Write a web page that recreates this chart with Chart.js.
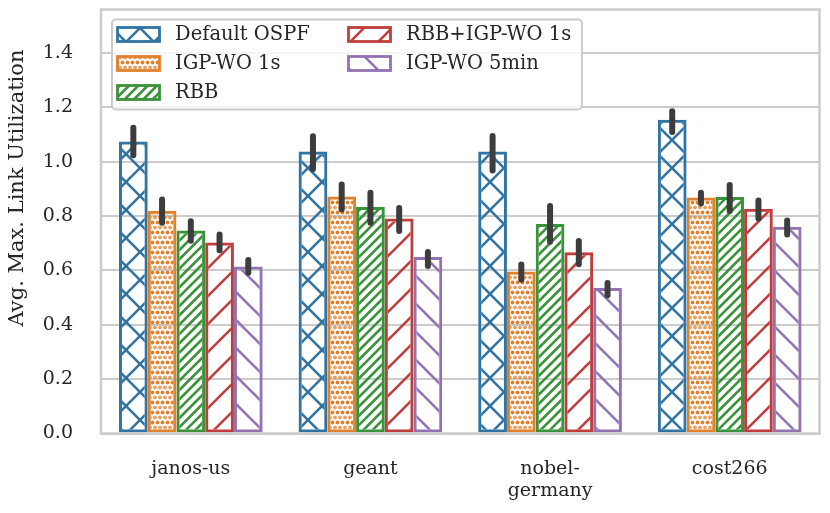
<!DOCTYPE html>
<html><head><meta charset="utf-8">
<script src="https://cdn.jsdelivr.net/npm/chart.js@4.4.0/dist/chart.umd.min.js"></script>
<style>html,body{margin:0;padding:0;background:#fff;}canvas{display:block}</style>
</head><body>
<canvas id="c" width="830" height="513" style="width:830px;height:513px"></canvas>
<script>
// ---- data ----
const categories = ['janos-us', 'geant', ['nobel-', 'germany'], 'cost266'];
const seriesNames = ['Default OSPF', 'IGP-WO 1s', 'RBB', 'RBB+IGP-WO 1s', 'IGP-WO 5min'];
const defaultOspf = [1.074, 1.038, 1.038, 1.154];
const igpWo1s     = [0.820, 0.872, 0.596, 0.868];
const rbb         = [0.747, 0.833, 0.771, 0.870];
const rbbIgpWo1s  = [0.703, 0.791, 0.667, 0.827];
const igpWo5min   = [0.614, 0.649, 0.535, 0.761];
// error bar extents (low / high)
const defaultOspfLo = [1.013, 0.962, 0.957, 1.098];
const defaultOspfHi = [1.136, 1.105, 1.106, 1.197];
const igpWo1sLo     = [0.764, 0.813, 0.555, 0.835];
const igpWo1sHi     = [0.872, 0.927, 0.633, 0.897];
const rbbLo         = [0.698, 0.764, 0.694, 0.808];
const rbbHi         = [0.792, 0.897, 0.848, 0.925];
const rbbIgpWo1sLo  = [0.663, 0.734, 0.612, 0.780];
const rbbIgpWo1sHi  = [0.743, 0.841, 0.719, 0.868];
const igpWo5minLo   = [0.580, 0.605, 0.498, 0.721];
const igpWo5minHi   = [0.649, 0.679, 0.565, 0.795];
const yTicks = [0.0, 0.2, 0.4, 0.6, 0.8, 1.0, 1.2, 1.4];
const yMax = 1.56;
const yTitle = 'Avg. Max. Link Utilization';

const seriesValues = [defaultOspf, igpWo1s, rbb, rbbIgpWo1s, igpWo5min];
const seriesLo = [defaultOspfLo, igpWo1sLo, rbbLo, rbbIgpWo1sLo, igpWo5minLo];
const seriesHi = [defaultOspfHi, igpWo1sHi, rbbHi, rbbIgpWo1sHi, igpWo5minHi];

// ---- styles ----
const colors = ['#3274a1', '#e1812c', '#3a923a', '#c03d3e', '#9372b2'];
const hatches = ['x', 'dots', '///', '/', '\\'];
const textColor = '#262626';
const gridColor = '#cccccc';
const FONT = "'DejaVu Serif', serif";

function makePattern(kind, color) {
  const cv = document.createElement('canvas');
  const g = cv.getContext('2d');
  if (kind === 'dots') {
    cv.width = 10; cv.height = 10;
    g.fillStyle = color;
    const pts = [[2.5, 2.5, 1], [7.5, 2.5, 1], [0, 7.5, 0.75], [5, 7.5, 0.75], [10, 7.5, 0.75]];
    pts.forEach(([x, y, a]) => {
      g.globalAlpha = a;
      g.beginPath(); g.arc(x, y, 1.9, 0, Math.PI * 2); g.fill();
    });
    g.globalAlpha = 1;
  } else {
    const T = 28;
    cv.width = T; cv.height = T;
    g.strokeStyle = color; g.lineWidth = 2.6; g.lineCap = 'butt';
    const fwd = (n) => { // '/' family: x + y = c
      for (let i = 0; i <= 2 * n; i++) {
        const c = i * T / n;
        g.beginPath(); g.moveTo(c + 5, -5); g.lineTo(c - T - 5, T + 5); g.stroke();
      }
    };
    const back = (n) => { // '\' family: x - y = c
      for (let i = -n; i <= n; i++) {
        const c = i * T / n;
        g.beginPath(); g.moveTo(c - 5, -5); g.lineTo(c + T + 5, T + 5); g.stroke();
      }
    };
    if (kind === 'x') { fwd(1); back(1); }
    else if (kind === '///') { fwd(3); }
    else if (kind === '/') { fwd(1); }
    else if (kind === '\\') { back(1); }
  }
  return g.createPattern(cv, 'repeat');
}
const patterns = colors.map((c, i) => makePattern(hatches[i], c));

// ---- plugins ----
const framePlugin = {
  id: 'frame',
  afterDatasetsDraw(chart) {
    const { ctx, chartArea: a } = chart;
    ctx.save();
    ctx.strokeStyle = gridColor; ctx.lineWidth = 2.5;
    ctx.strokeRect(a.left, a.top, a.right - a.left, a.bottom - a.top);
    // error bars
    const ys = chart.scales.y;
    ctx.strokeStyle = '#3d3d3d'; ctx.lineWidth = 6; ctx.lineCap = 'round';
    seriesValues.forEach((_, i) => {
      const meta = chart.getDatasetMeta(i);
      meta.data.forEach((bar, j) => {
        const y1 = ys.getPixelForValue(seriesHi[i][j]) + 3;
        const y2 = ys.getPixelForValue(seriesLo[i][j]) - 3;
        ctx.beginPath(); ctx.moveTo(bar.x, y1); ctx.lineTo(bar.x, y2); ctx.stroke();
      });
    });
    ctx.restore();
  },
  afterDraw(chart) {
    const { ctx } = chart;
    ctx.save();
    // y title
    ctx.fillStyle = textColor;
    ctx.font = '21px ' + FONT;
    ctx.translate(18, 188);
    ctx.rotate(-Math.PI / 2);
    ctx.textAlign = 'center'; ctx.textBaseline = 'middle';
    ctx.fillText(yTitle, 0, 0);
    ctx.restore();

    // legend
    ctx.save();
    const bx = 112, by = 19.5, bw = 470, bh = 90, r = 4;
    ctx.beginPath();
    ctx.moveTo(bx + r, by);
    ctx.arcTo(bx + bw, by, bx + bw, by + bh, r);
    ctx.arcTo(bx + bw, by + bh, bx, by + bh, r);
    ctx.arcTo(bx, by + bh, bx, by, r);
    ctx.arcTo(bx, by, bx + bw, by, r);
    ctx.closePath();
    ctx.fillStyle = 'rgba(255,255,255,0.8)';
    ctx.fill();
    ctx.strokeStyle = gridColor; ctx.lineWidth = 2;
    ctx.stroke();
    const colX = [117.5, 348.5], rowY = [27.5, 56.5, 85.5];
    const pw = 42, ph = 14;
    ctx.font = '19.5px ' + FONT;
    ctx.textBaseline = 'middle'; ctx.textAlign = 'left';
    seriesNames.forEach((name, i) => {
      const col = i < 3 ? 0 : 1, row = i < 3 ? i : i - 3;
      const x = colX[col], y = rowY[row];
      ctx.fillStyle = patterns[i];
      ctx.fillRect(x, y, pw, ph);
      ctx.strokeStyle = colors[i]; ctx.lineWidth = 2.8;
      ctx.strokeRect(x, y, pw, ph);
      ctx.fillStyle = textColor;
      ctx.fillText(name, x + 57.5, y + ph / 2 + 0.5);
    });
    ctx.restore();
  }
};

Chart.defaults.font.family = FONT;

new Chart(document.getElementById('c'), {
  type: 'bar',
  data: {
    labels: categories,
    datasets: seriesNames.map((n, i) => ({
      label: n,
      data: seriesValues[i],
      backgroundColor: patterns[i],
      borderColor: colors[i],
      borderWidth: 3,
      borderSkipped: false,
      categoryPercentage: 0.8,
      barPercentage: 1.0
    }))
  },
  options: {
    responsive: false,
    devicePixelRatio: 1,
    animation: false,
    layout: { padding: { left: 0, right: 10.5, top: 9.5, bottom: 0 } },
    plugins: { legend: { display: false }, tooltip: { enabled: false } },
    scales: {
      x: {
        grid: { display: false, drawTicks: false },
        border: { display: false },
        ticks: { color: textColor, font: { size: 19, lineHeight: 1.13 }, padding: 25 },
        afterFit(s) { s.height = 79.5; s.paddingLeft = 0; s.paddingRight = 0; }
      },
      y: {
        min: 0, max: yMax,
        afterBuildTicks(s) { s.ticks = yTicks.map(v => ({ value: v })); },
        grid: { color: gridColor, lineWidth: 2, drawTicks: false },
        border: { display: false },
        ticks: { color: textColor, font: { size: 19 }, padding: 28, callback: v => Number(v).toFixed(1) },
        afterFit(s) { s.width = 101; s.paddingTop = 0; s.paddingBottom = 0; }
      }
    }
  },
  plugins: [framePlugin]
});
</script>
</body></html>
